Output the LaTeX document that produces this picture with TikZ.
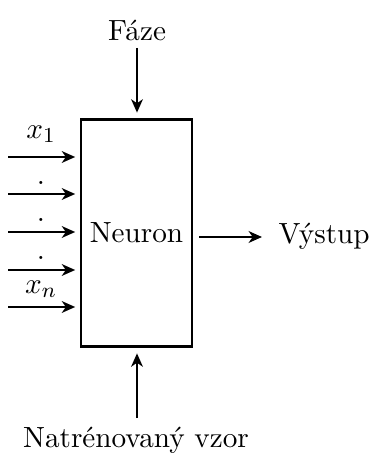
\documentclass[tikz,border=0pt]{standalone}
\usetikzlibrary{arrows.meta}
\begin{document}
\begin{tikzpicture}[x=0.375pt,y=-0.375pt,
  font=\fontsize{10.95}{13}\selectfont,
  arr/.style={line width=0.8pt,-{Stealth[length=5pt,width=4.4pt,inset=1.5pt]}},
  lbl/.style={inner sep=0pt}]
\useasboundingbox (0,0) rectangle (372,459);
\node[draw,line width=0.8pt,minimum width=41.6pt,minimum height=85.1pt,inner sep=0pt] (box) at (136.5,233) {Neuron};
\node[lbl] (faze) at (137,30) {Fáze};
\node[lbl] (vzor) at (136,440) {Natrénovaný vzor};
\node[lbl,anchor=west] (vystup) at (278,236) {Výstup};
\coordinate (ftop) at (137,48);
\coordinate (vbot) at (137,418);
\draw[arr] (ftop) -- ([yshift=2.2pt]box.north -| ftop);
\draw[arr] (vbot) -- ([yshift=-2.2pt]box.south -| vbot);
\coordinate (oend) at (262,237);
\coordinate (ostart) at (199,237);
\draw[arr] (ostart) -- (oend);
\foreach \y/\n in {157/a,194/b,232/c,270/d,307/e}{
  \coordinate (in\n) at (8,\y);
  \draw[arr] (in\n) -- ([xshift=-1.8pt]box.west |- in\n);
}
\node[lbl] (x1) at (41,134) {$x_1$};
\node[lbl] (xn) at (41,289) {$x_n$};
\foreach \y/\n in {183/a,220/b,258/c}{
  \node[lbl] (dot\n) at (41,\y) {.};
}
\end{tikzpicture}
\end{document}
